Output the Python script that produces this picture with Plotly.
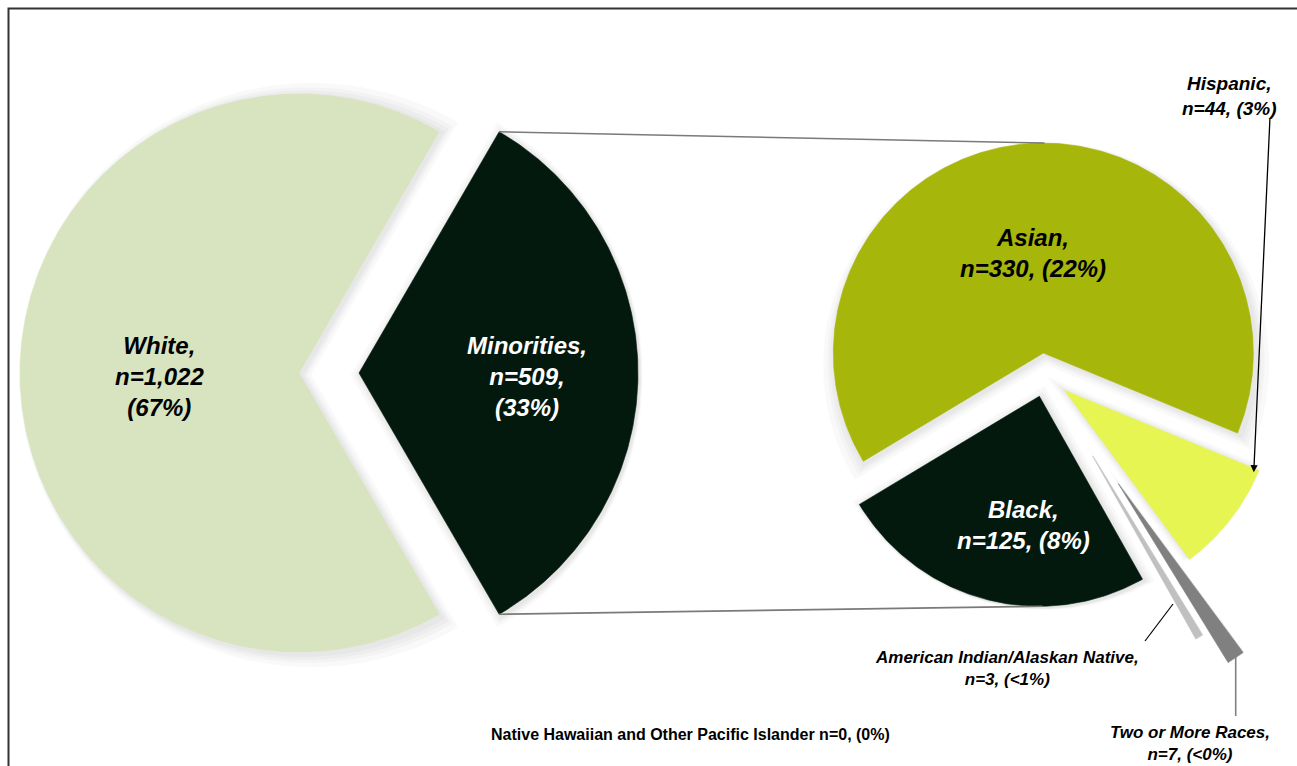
import numpy as np
import plotly.graph_objects as go

# ---- data -------------------------------------------------------------
main_groups = ["Minorities", "White"]          # drawn clockwise from the top right
main_counts = [509, 1022]
main_pct = ["33%", "67%"]

minority_groups = ["Asian", "Hispanic", "Two or More Races",
                   "American Indian/Alaskan Native", "Black",
                   "Native Hawaiian and Other Pacific Islander"]
minority_counts = [330, 44, 7, 3, 125, 0]
minority_pct = ["22%", "3%", "<0%", "<1%", "8%", "0%"]

# ---- styling ----------------------------------------------------------
W, H = 1297, 766
FONT = ("Liberation Sans Narrow, Arial Narrow, Noto Sans Condensed, "
        "Liberation Sans, Arial, sans-serif")

colors = {
    "White": "#d8e4bf",
    "Minorities": "#03190e",
    "Asian": "#a6b60a",
    "Hispanic": "#e6f552",
    "Two or More Races": "#808080",
    "American Indian/Alaskan Native": "#c0c0c0",
    "Black": "#03190e",
    "Native Hawaiian and Other Pacific Islander": "#7f7f7f",
}
# explosion distance of each slice (px)
pulls = {
    "White": 0, "Minorities": 60,
    "Asian": 22, "Hispanic": 25, "Two or More Races": 131,
    "American Indian/Alaskan Native": 94, "Black": 22,
    "Native Hawaiian and Other Pacific Islander": 0,
}

main_center, main_r = (299.0, 373.0), 279.0
sub_center, sub_r, sub_rotation = (1045.0, 375.0), 210.0, 239.0


def slice_geometry(names, counts, center, r, rotation):
    """Start/end angles (clockwise from 12 o'clock) and apex of every slice."""
    total = float(sum(counts))
    out = {}
    a = rotation
    for name, v in zip(names, counts):
        span = 360.0 * v / total
        a0, a1 = a, a + span
        mid = np.radians((a0 + a1) / 2)
        p = pulls[name]
        apex = (center[0] + p * np.sin(mid), center[1] - p * np.cos(mid))
        out[name] = dict(a0=a0, a1=a1, span=span, mid=mid, apex=apex, r=r)
        a = a1
    return out


def wedge(apex, r, a0, a1):
    n = max(int(abs(a1 - a0) * 1.5), 4)
    t = np.radians(np.linspace(a0, a1, n))
    xs = np.concatenate([[apex[0]], apex[0] + r * np.sin(t), [apex[0]]])
    ys = np.concatenate([[apex[1]], apex[1] - r * np.cos(t), [apex[1]]])
    return xs, ys


# left pie: Minorities centred on 3 o'clock
main_rot = 90.0 - 180.0 * main_counts[0] / sum(main_counts)
main_geo = slice_geometry(main_groups, main_counts, main_center, main_r, main_rot)
sub_geo = slice_geometry(minority_groups, minority_counts, sub_center, sub_r, sub_rotation)

fig = go.Figure()

all_slices = [(n, main_geo[n]) for n in main_groups] + \
             [(n, sub_geo[n]) for n in minority_groups]

# soft drop shadow under each slice
for name, g in all_slices:
    if g["span"] <= 0:
        continue
    half = np.radians(g["span"] / 2)
    for d in (2, 4, 6, 9):
        back = d / max(np.sin(half), 0.35)
        apex = (g["apex"][0] - back * np.sin(g["mid"]) + 2,
                g["apex"][1] + back * np.cos(g["mid"]) + 2)
        xs, ys = wedge(apex, g["r"] + d + 0.4 * back, g["a0"], g["a1"])
        fig.add_trace(go.Scatter(x=xs, y=ys, mode="lines", fill="toself",
                                 fillcolor="rgba(0,0,0,0.022)",
                                 line=dict(width=0, color="rgba(0,0,0,0)"),
                                 hoverinfo="skip", showlegend=False))

# the slices themselves
for name, g in all_slices:
    if g["span"] <= 0:
        continue
    xs, ys = wedge(g["apex"], g["r"], g["a0"], g["a1"])
    fig.add_trace(go.Scatter(x=xs, y=ys, mode="lines", fill="toself",
                             fillcolor=colors[name],
                             line=dict(width=0.6, color=colors[name]),
                             name=name, hoverinfo="name", showlegend=False))

# connector lines from the Minorities slice to the breakdown pie
gm = main_geo["Minorities"]
top_l = (gm["apex"][0] + main_r * np.sin(np.radians(gm["a0"])),
         gm["apex"][1] - main_r * np.cos(np.radians(gm["a0"])))
bot_l = (gm["apex"][0] + main_r * np.sin(np.radians(gm["a1"])),
         gm["apex"][1] - main_r * np.cos(np.radians(gm["a1"])))
top_r = (sub_geo["Asian"]["apex"][0] + 1, sub_geo["Asian"]["apex"][1] - sub_r)
bot_r = (sub_geo["Black"]["apex"][0] + 3, sub_geo["Black"]["apex"][1] + sub_r)
for p, q in ((top_l, top_r), (bot_l, bot_r)):
    fig.add_trace(go.Scatter(x=[p[0], q[0]], y=[p[1], q[1]], mode="lines",
                             line=dict(color="#7a7a7a", width=1.6),
                             hoverinfo="skip", showlegend=False))


def label(name, counts, names, pct, sep_after_name="<br>", sep_pct=", "):
    v = counts[names.index(name)]
    pc = pct[names.index(name)]
    return f"{name},{sep_after_name}n={v:,}{sep_pct}({pc})"


def add_text(x, y, text, size, color="black", italic=True):
    t = f"<b><i>{text}</i></b>" if italic else f"<b>{text}</b>"
    fig.add_annotation(x=x, y=y, xref="x", yref="y", text=t, showarrow=False,
                       xanchor="center", yanchor="middle", align="center",
                       font=dict(family=FONT, size=size, color=color))


add_text(159, 376, label("White", main_counts, main_groups, main_pct, sep_pct="<br>"), 24)
add_text(527, 376, label("Minorities", main_counts, main_groups, main_pct, sep_pct=",<br>"), 24, "white")
add_text(1033, 253, label("Asian", minority_counts, minority_groups, minority_pct), 24)
add_text(1023, 525, label("Black", minority_counts, minority_groups, minority_pct), 24, "white")
add_text(1229, 96, label("Hispanic", minority_counts, minority_groups, minority_pct), 19)
add_text(1007, 668, label("American Indian/Alaskan Native", minority_counts,
                          minority_groups, minority_pct), 17)
add_text(1190, 743, label("Two or More Races", minority_counts,
                          minority_groups, minority_pct), 17)
nh = "Native Hawaiian and Other Pacific Islander"
add_text(690, 734, f"{nh} n={minority_counts[minority_groups.index(nh)]}, "
                   f"({minority_pct[minority_groups.index(nh)]})", 16, italic=False)

# arrow from the Hispanic label to its slice
gh = sub_geo["Hispanic"]
tip_a = np.radians(gh["a0"] + 1.0)
tip = (gh["apex"][0] + (sub_r - 4) * np.sin(tip_a), gh["apex"][1] - (sub_r - 4) * np.cos(tip_a))
fig.add_annotation(x=tip[0], y=tip[1], ax=1270, ay=117, xref="x", yref="y",
                   axref="x", ayref="y", text="", showarrow=True, arrowhead=2,
                   arrowsize=1.1, arrowwidth=1.3, arrowcolor="black", standoff=0)

# leader lines for the two small slices
fig.add_shape(type="line", x0=1145, y0=641, x1=1173, y1=604, xref="x", yref="y",
              line=dict(color="black", width=1.2))
gt = sub_geo["Two or More Races"]
two_end = (gt["apex"][0] + sub_r * np.sin(gt["mid"]), gt["apex"][1] - sub_r * np.cos(gt["mid"]))
fig.add_shape(type="line", x0=two_end[0], y0=two_end[1] - 6, x1=two_end[0], y1=716,
              xref="x", yref="y", line=dict(color="#808080", width=1.6))

# frame
fig.add_shape(type="path", path=f"M 8.5 {H + 5} L 8.5 8.5 L {W + 5} 8.5",
              xref="x", yref="y", line=dict(color="#333333", width=2))

fig.update_layout(
    width=W, height=H, margin=dict(l=0, r=0, t=0, b=0),
    paper_bgcolor="white", plot_bgcolor="white", showlegend=False,
    xaxis=dict(range=[0, W], visible=False, fixedrange=True),
    yaxis=dict(range=[H, 0], visible=False, fixedrange=True),
)

fig.write_html("out.html")
